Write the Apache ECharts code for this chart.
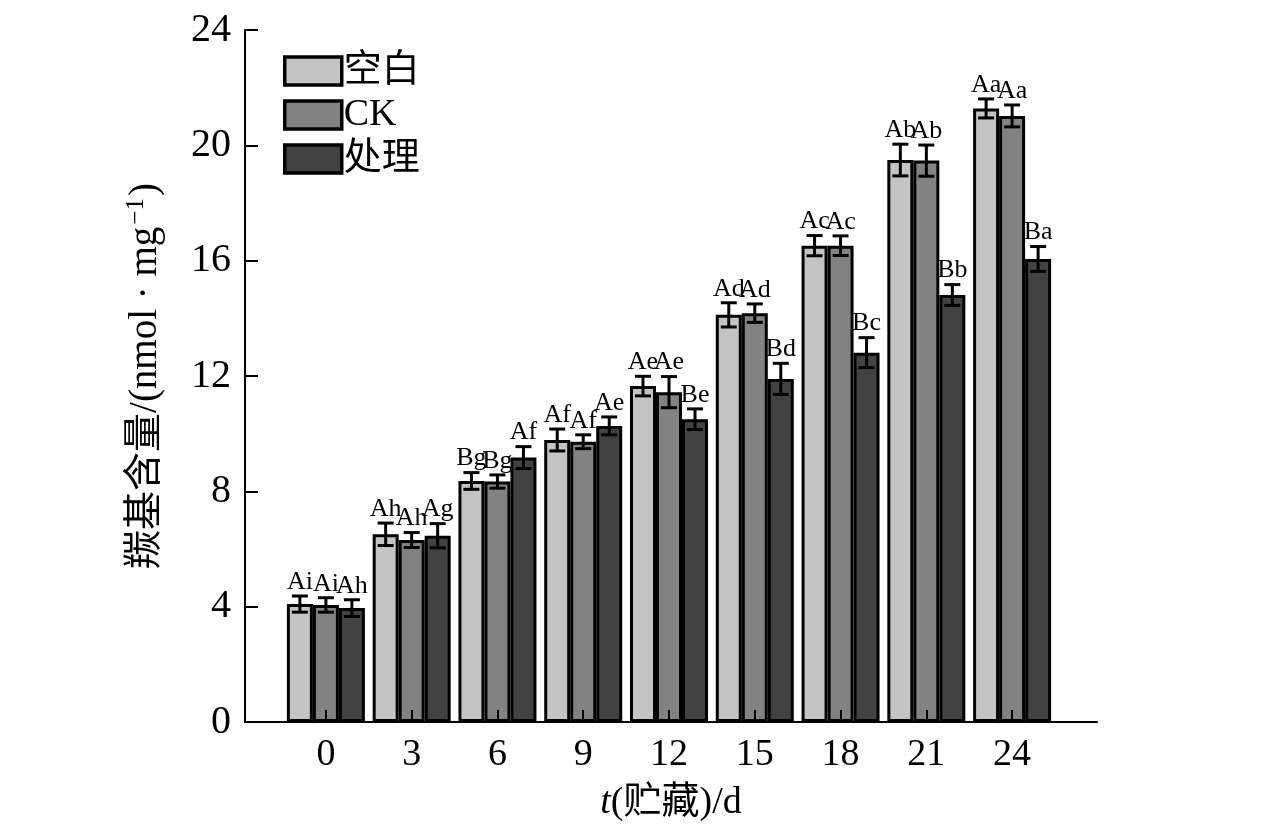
<!DOCTYPE html>
<html>
<head>
<meta charset="utf-8">
<script src="https://cdn.jsdelivr.net/npm/echarts@6/dist/echarts.min.js"></script>
<style>
  html, body { margin: 0; padding: 0; background: #fff; }
  #main { width: 1276px; height: 833px; }
</style>
</head>
<body>
<div id="main"></div>
<script>
// 贮藏天数
const categories = ['0', '3', '6', '9', '12', '15', '18', '21', '24'];
// 羰基含量均值
const blankVals = [4.09, 6.51, 8.36, 9.78, 11.65, 14.12, 16.52, 19.49, 21.28];
const ckVals = [4.06, 6.31, 8.34, 9.72, 11.44, 14.18, 16.52, 19.47, 21.02];
const treatVals = [3.95, 6.46, 9.17, 10.27, 10.50, 11.90, 12.81, 14.81, 16.06];
// 误差
const blankErr = [0.28, 0.39, 0.29, 0.38, 0.34, 0.42, 0.35, 0.55, 0.33];
const ckErr = [0.25, 0.26, 0.23, 0.24, 0.54, 0.32, 0.34, 0.54, 0.38];
const treatErr = [0.29, 0.42, 0.38, 0.31, 0.36, 0.54, 0.52, 0.36, 0.43];
// 显著性字母
const blankSig = ['Ai', 'Ah', 'Bg', 'Af', 'Ae', 'Ad', 'Ac', 'Ab', 'Aa'];
const ckSig = ['Ai', 'Ah', 'Bg', 'Af', 'Ae', 'Ad', 'Ac', 'Ab', 'Aa'];
const treatSig = ['Ah', 'Ag', 'Af', 'Ae', 'Be', 'Bd', 'Bc', 'Bb', 'Ba'];
const yTicks = [0, 4, 8, 12, 16, 20, 24];

const FONT = '"Liberation Serif", "Noto Sans CJK SC", serif';
const BAR_W = 26;

const myChart = echarts.init(document.getElementById('main'));

function barSeries(name, vals, color) {
  return {
    name: name,
    type: 'bar',
    xAxisIndex: 1,
    yAxisIndex: 1,
    data: vals,
    barWidth: BAR_W,
    barGap: '0%',
    itemStyle: { color: color, borderColor: '#000', borderWidth: 3 },
    z: 2
  };
}

// 误差线 + 字母
function errSeries(vals, errs, sigs, offset) {
  return {
    type: 'custom',
    xAxisIndex: 1,
    yAxisIndex: 1,
    z: 5,
    silent: true,
    data: vals.map((v, i) => [i, v, errs[i]]),
    renderItem: function (params, api) {
      const i = api.value(0);
      const v = api.value(1);
      const e = api.value(2);
      const top = api.coord([i, v + e]);
      const bot = api.coord([i, v - e]);
      const x = top[0] + offset;
      const cap = 8;
      const ls = { stroke: '#000', lineWidth: 3 };
      return {
        type: 'group',
        children: [
          { type: 'line', shape: { x1: x, y1: top[1], x2: x, y2: bot[1] }, style: ls },
          { type: 'line', shape: { x1: x - cap, y1: top[1], x2: x + cap, y2: top[1] }, style: ls },
          { type: 'line', shape: { x1: x - cap, y1: bot[1], x2: x + cap, y2: bot[1] }, style: ls },
          {
            type: 'text',
            style: {
              text: sigs[params.dataIndex],
              x: x,
              y: top[1] - 1,
              align: 'center',
              verticalAlign: 'bottom',
              font: '26px ' + FONT,
              fill: '#000'
            }
          }
        ]
      };
    }
  };
}

const option = {
  backgroundColor: '#fff',
  animation: false,
  grid: [
    { left: 245, right: 179, top: 30, bottom: 111 },
    { left: 283, right: 221, top: 30, bottom: 111 }
  ],
  legend: {
    data: ['空白', 'CK', '处理'],
    orient: 'vertical',
    left: 278,
    top: 47,
    itemWidth: 57,
    itemHeight: 28,
    itemGap: 6,
    icon: 'rect',
    itemStyle: { borderColor: '#000', borderWidth: 3.5 },
    textStyle: { fontSize: 38, fontFamily: FONT, color: '#000', padding: [0, 0, 0, -3] }
  },
  xAxis: [
    {
      gridIndex: 0,
      type: 'value',
      min: 0,
      max: 1,
      axisLine: { lineStyle: { color: '#000', width: 2 } },
      axisTick: { show: false },
      axisLabel: { show: false },
      splitLine: { show: false },
      name: '{i|t}{n|(贮藏)/d}',
      nameLocation: 'middle',
      nameGap: 62,
      nameTextStyle: {
        rich: {
          i: { fontSize: 38, fontFamily: FONT, fontStyle: 'italic', color: '#000' },
          n: { fontSize: 38, fontFamily: FONT, color: '#000' }
        }
      }
    },
    {
      gridIndex: 1,
      type: 'category',
      data: categories,
      z: 10,
      axisLine: { show: false },
      axisTick: { show: true, inside: true, alignWithLabel: true, length: 12, lineStyle: { color: '#000', width: 2 } },
      axisLabel: { fontSize: 38, fontFamily: FONT, color: '#000', margin: 14 }
    }
  ],
  yAxis: [
    {
      gridIndex: 0,
      type: 'value',
      min: 0,
      max: 24,
      interval: 4,
      axisLine: { show: true, lineStyle: { color: '#000', width: 2 } },
      axisTick: { show: true, inside: true, length: 13, lineStyle: { color: '#000', width: 2 } },
      axisLabel: {
        fontSize: 40, fontFamily: FONT, color: '#000', margin: 14,
        formatter: v => (yTicks.indexOf(v) >= 0 ? String(v) : '')
      },
      splitLine: { show: false },
      name: '羰基含量/(nmol · mg{sup|−1})',
      nameLocation: 'middle',
      nameGap: 78,
      nameTextStyle: {
        fontSize: 39,
        fontFamily: FONT,
        color: '#000',
        rich: {
          sup: { fontSize: 25, fontFamily: FONT, color: '#000', padding: [0, 2, 18, 2] }
        }
      }
    },
    {
      gridIndex: 1,
      type: 'value',
      min: 0,
      max: 24,
      interval: 4,
      show: false
    }
  ],
  series: [
    barSeries('空白', blankVals, '#c4c4c4'),
    barSeries('CK', ckVals, '#828282'),
    barSeries('处理', treatVals, '#424242'),
    errSeries(blankVals, blankErr, blankSig, -BAR_W),
    errSeries(ckVals, ckErr, ckSig, 0),
    errSeries(treatVals, treatErr, treatSig, BAR_W)
  ]
};

myChart.setOption(option);
window.addEventListener('resize', function () {
  myChart.resize();
});
</script>
</body>
</html>
